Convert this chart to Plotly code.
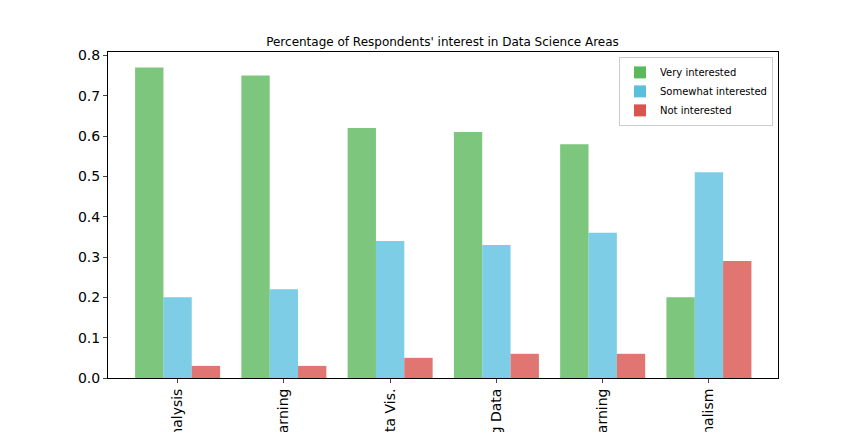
import plotly.graph_objects as go

categories = ["Data Analysis", "Machine Learning", "Data Vis.", "Big Data", "Deep Learning", "Data Journalism"]
very = [0.77, 0.75, 0.62, 0.61, 0.58, 0.20]
somewhat = [0.20, 0.22, 0.34, 0.33, 0.36, 0.51]
not_int = [0.03, 0.03, 0.05, 0.06, 0.06, 0.29]

series = [("Very interested", very, "#5cb85c"),
          ("Somewhat interested", somewhat, "#5bc0de"),
          ("Not interested", not_int, "#d9534f")]

xpos = list(range(len(categories)))
fig = go.Figure()
for name, vals, col in series:
    fig.add_trace(go.Bar(x=xpos, y=vals, name=name, marker=dict(color=col, opacity=0.8, line=dict(width=0))))

# page body has an 8px margin, so the figure is laid out 8px right/down
fig.update_layout(
    width=864, height=432,
    barmode="group", bargap=0.2, bargroupgap=0,
    margin=dict(l=100, r=94, t=44, b=62),
    paper_bgcolor="white", plot_bgcolor="white",
    font=dict(family="DejaVu Sans", color="black"),
    title=dict(text="Percentage of Respondents' interest in Data Science Areas",
               x=434.5 / 864, xanchor="center", y=1 - 34 / 432, yanchor="middle",
               font=dict(size=12)),
    legend=dict(x=0.9925, xanchor="right", y=0.985, yanchor="top",
                bgcolor="rgba(255,255,255,0.8)", bordercolor="#cccccc", borderwidth=1,
                font=dict(size=10), tracegroupgap=0, itemwidth=30),
    showlegend=True,
)
fig.update_xaxes(range=[-0.655, 5.65], tickmode="array", tickvals=xpos, ticktext=categories,
                 tickangle=-90, tickfont=dict(size=14), ticks="outside", ticklen=4,
                 showline=True, linecolor="black", linewidth=1, mirror=True,
                 showgrid=False, zeroline=False, automargin=False)
fig.update_yaxes(range=[0, 0.8085], tickmode="array", tickvals=[0, 0.1, 0.2, 0.3, 0.4, 0.5, 0.6, 0.7, 0.8],
                 ticktext=["0.0", "0.1", "0.2", "0.3", "0.4", "0.5", "0.6", "0.7", "0.8"],
                 tickfont=dict(size=14), ticks="outside", ticklen=4,
                 showline=True, linecolor="black", linewidth=1, mirror=True,
                 showgrid=False, zeroline=False, automargin=False)

fig.write_html("out.html")
